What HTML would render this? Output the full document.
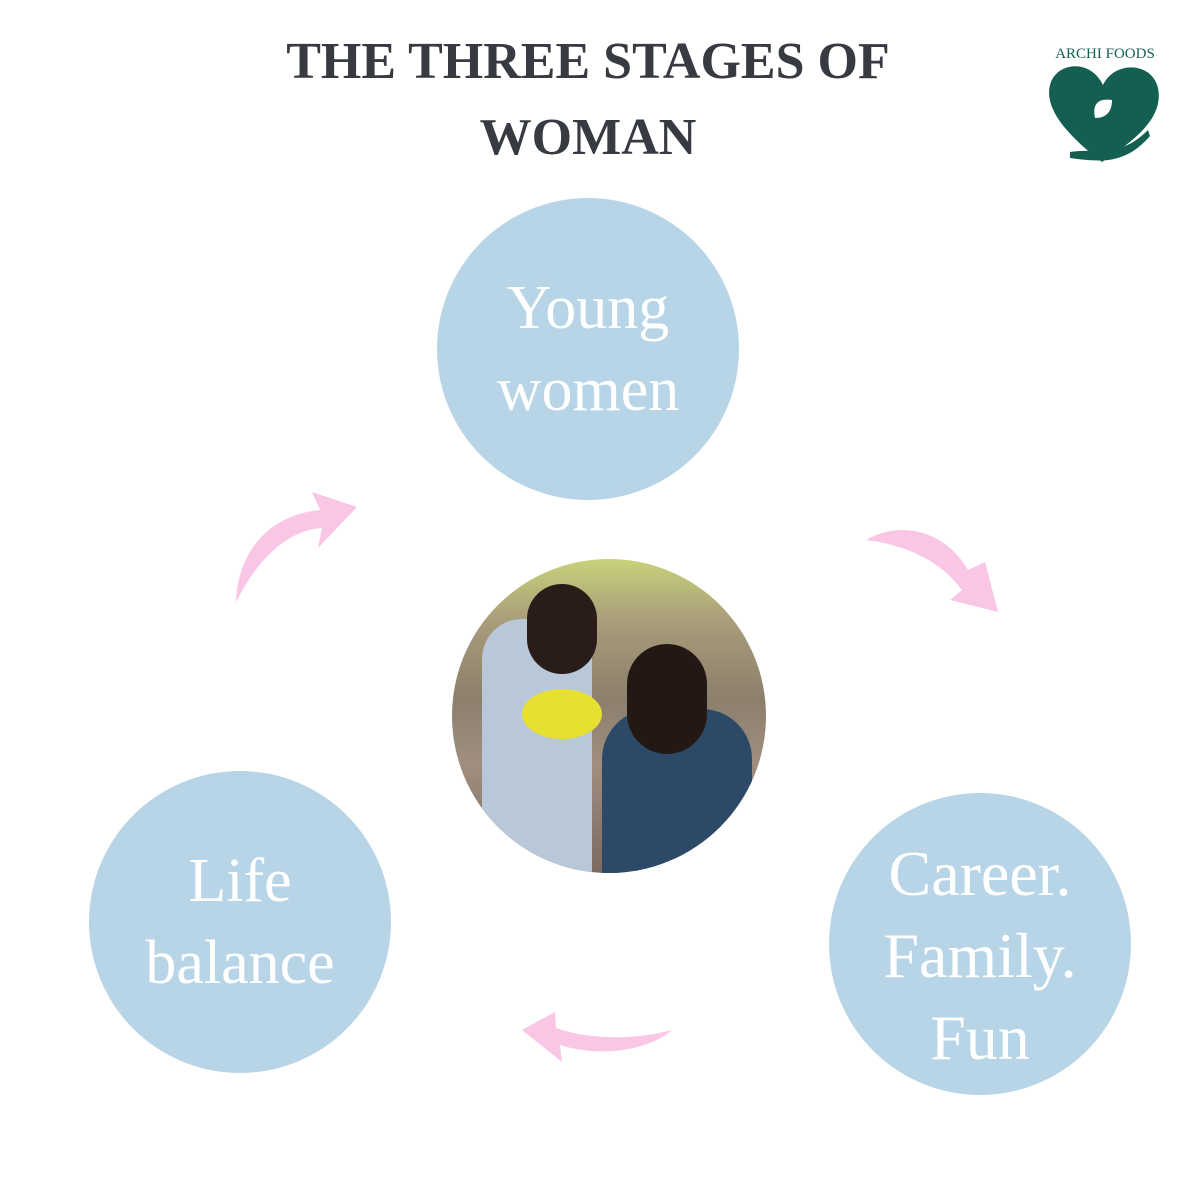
<!DOCTYPE html>
<html><head><style>
body{margin:0;width:1200px;height:1200px;background:#fff;position:relative;overflow:hidden;font-family:"Liberation Serif",serif}
.t{position:absolute;left:0;width:1176px;text-align:center;font-weight:bold;color:#373a40;font-size:52px;line-height:76px;top:24px}
.c{position:absolute;border-radius:50%;background:#b7d5e6;color:#fff;display:flex;align-items:center;justify-content:center;text-align:center;font-size:62px;line-height:82px}
</style></head><body>
<div class="t">THE THREE STAGES OF<br>WOMAN</div>
<div class="c" style="left:437px;top:198px;width:302px;height:302px">Young<br>women</div>
<div class="c" style="left:89px;top:771px;width:302px;height:302px">Life<br>balance</div>
<div class="c" style="left:829px;top:793px;width:302px;height:302px;font-size:64px;padding-top:24px;box-sizing:border-box">Career.<br>Family.<br>Fun</div>
<div style="position:absolute;left:452px;top:559px;width:314px;height:314px;border-radius:50%;overflow:hidden;background:linear-gradient(180deg,#c8d27a 0%,#a89c7a 20%,#8c7f6c 45%,#a08f80 65%,#7a6a60 100%)">
<div style="position:absolute;left:30px;top:60px;width:110px;height:270px;background:#b8c8d8;border-radius:40px 40px 0 0"></div>
<div style="position:absolute;left:75px;top:25px;width:70px;height:90px;background:#2a1c18;border-radius:40px"></div>
<div style="position:absolute;left:150px;top:150px;width:150px;height:180px;background:#2c4a68;border-radius:50px 50px 0 0"></div>
<div style="position:absolute;left:175px;top:85px;width:80px;height:110px;background:#241814;border-radius:40px"></div>
<div style="position:absolute;left:70px;top:130px;width:80px;height:50px;background:#e8e030;border-radius:50%"></div>
</div>
<svg width="1200" height="1200" style="position:absolute;left:0;top:0">
<g fill="#f9c6e6">
<path d="M236 602 C238 550 270 515 320 510 L312 492 L357 507 L318 548 L322 528 C290 530 260 555 236 602Z"/>
<path d="M866 540 C900 520 945 530 968 570 L985 562 L998 612 L950 600 L962 590 C940 560 905 545 866 540Z"/>
<path d="M672 1030 C650 1050 600 1058 560 1045 L562 1062 L522 1030 L555 1012 L556 1028 C590 1040 635 1040 672 1030Z"/>
</g>
<g fill="#155f52">
<path d="M1102 162 C1060 130 1045 105 1050 85 C1056 62 1090 58 1103 85 C1115 60 1152 62 1158 88 C1164 118 1135 140 1102 162Z"/>
<path d="M1070 152 C1100 148 1120 158 1148 130 L1150 136 C1125 165 1100 162 1070 158Z"/>
</g>
<path d="M1095 118 C1092 104 1098 98 1112 100 C1112 112 1106 118 1095 118Z" fill="#fff"/>
<text x="1105" y="58" font-size="15" fill="#155f52" text-anchor="middle" font-family="Liberation Serif">ARCHI FOODS</text>
</svg>
</body></html>
